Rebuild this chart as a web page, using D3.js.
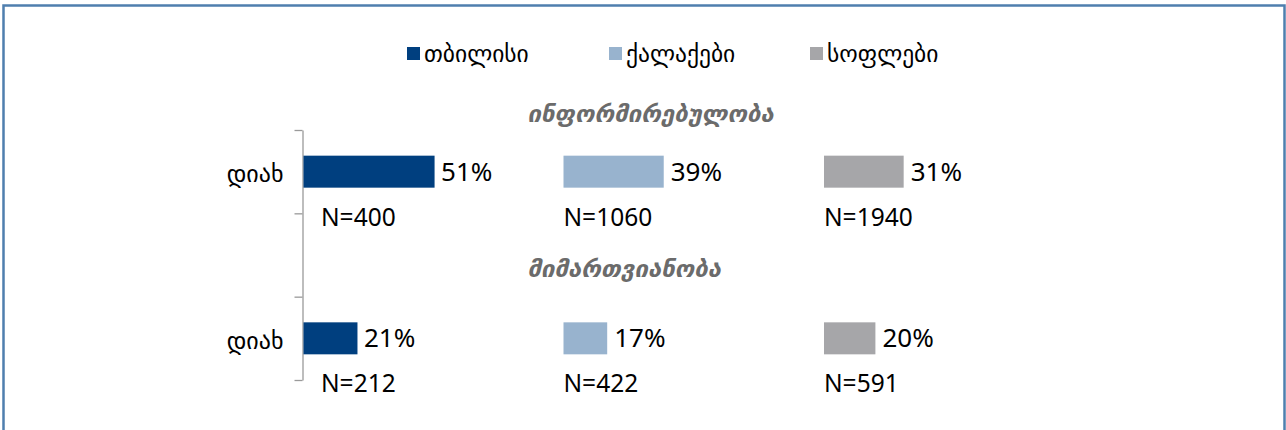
<!DOCTYPE html>
<html><head><meta charset="utf-8">
<script src="https://cdn.jsdelivr.net/npm/d3@7"></script>
<style>
html,body{margin:0;padding:0;background:#fff;}
svg{display:block;font-family:"Noto Sans","DejaVu Sans",sans-serif;}
</style></head>
<body>
<svg id="chart" width="1286" height="430"></svg>
<script>
// ---- data ----
const series = ["თბილისი", "ქალაქები", "სოფლები"];
const rows = ["r1", "gap", "r2"];
const rowLabels = ["დიახ", "", "დიახ"];
const sectionTitles = ["ინფორმირებულობა", "მიმართვიანობა"];
const values1 = [51, 39, 31];           // ინფორმირებულობა – დიახ
const values2 = [21, 17, 20];           // მიმართვიანობა – დიახ
const counts1 = ["N=400", "N=1060", "N=1940"];
const counts2 = ["N=212", "N=422", "N=591"];
const colors = ["#003f7f", "#98b3ce", "#a6a6a9"];

const svg = d3.select("#chart");

// outer frame
svg.append("rect").attr("x", 3.5).attr("y", 5.5).attr("width", 1281).attr("height", 460)
  .attr("fill", "none").attr("stroke", "#4f7fae").attr("stroke-width", 2.5);

// scales
const y = d3.scaleBand().domain(rows).range([130, 380]).paddingInner(0).paddingOuter(0);
const yIdx = d3.scaleLinear().domain([0, rows.length]).range([130, 380]);
const panel = d3.scaleBand().domain(series).range([303, 303 + 3 * 260.5]);
const x = d3.scaleLinear().domain([0, 100]).range([0, 257]);
const color = d3.scaleOrdinal().domain(series).range(colors);
const barH = 32;

// axis with tick marks at category boundaries
const axisG = svg.append("g").attr("transform", "translate(302.5,0)")
  .call(d3.axisLeft(yIdx).tickValues(d3.range(rows.length + 1)).tickSize(8).tickSizeOuter(0).tickFormat(""));
axisG.selectAll("path,line").attr("stroke", "#9a9a9a").attr("stroke-width", 1.3);

// category labels
const labG = svg.append("g").attr("transform", "translate(302.5,0)")
  .call(d3.axisLeft(y).tickSize(0).tickPadding(19).tickFormat((d, i) => rowLabels[i]));
labG.select(".domain").remove();
labG.selectAll("text").attr("font-size", 24).attr("fill", "#000")
  .attr("font-family", "'DejaVu Sans', sans-serif").attr("dy", "0.45em");

// legend
const lg = svg.append("g").selectAll("g").data(series).join("g")
  .attr("transform", (d, i) => `translate(${[407, 609, 810][i]},47)`);
lg.append("rect").attr("width", 13).attr("height", 13).attr("fill", d => color(d));
lg.append("text").attr("x", 17).attr("y", 15).attr("font-size", 23.5)
  .attr("font-family", "'DejaVu Sans', sans-serif").attr("fill", "#000").text(d => d);

// section titles
const titleY = [122, 277];
svg.selectAll("text.title").data(sectionTitles).join("text").attr("class", "title")
  .attr("x", panel(series[1]) - 36).attr("y", (d, i) => titleY[i])
  .attr("font-size", 24).attr("font-weight", "bold").attr("font-style", "italic")
  .attr("font-family", "'DejaVu Sans', sans-serif")
  .attr("fill", "#6b6b6b").text(d => d);

// bars
function drawRow(rowKey, vals, counts) {
  const cy = y(rowKey) + y.bandwidth() / 2;
  const data = series.map((s, i) => ({ s, v: vals[i], n: counts[i], i }));
  const g = svg.append("g");
  g.selectAll("rect").data(data).join("rect")
    .attr("x", d => panel(d.s) + (d.i === 0 ? 0.5 : 0))
    .attr("y", cy - barH / 2).attr("height", barH)
    .attr("width", d => x(d.v)).attr("fill", d => color(d.s));
  g.selectAll("text.val").data(data).join("text").attr("class", "val")
    .attr("x", d => panel(d.s) + x(d.v) + 7).attr("y", cy + 9)
    .attr("font-size", 26).attr("fill", "#000").text(d => d.v + "%");
  g.selectAll("text.n").data(data).join("text").attr("class", "n")
    .attr("x", d => panel(d.s) + (d.i === 0 ? 18 : 0)).attr("y", cy + 54)
    .attr("font-size", 24.5).attr("fill", "#000").text(d => d.n);
}
drawRow("r1", values1, counts1);
drawRow("r2", values2, counts2);
</script>
</body></html>
